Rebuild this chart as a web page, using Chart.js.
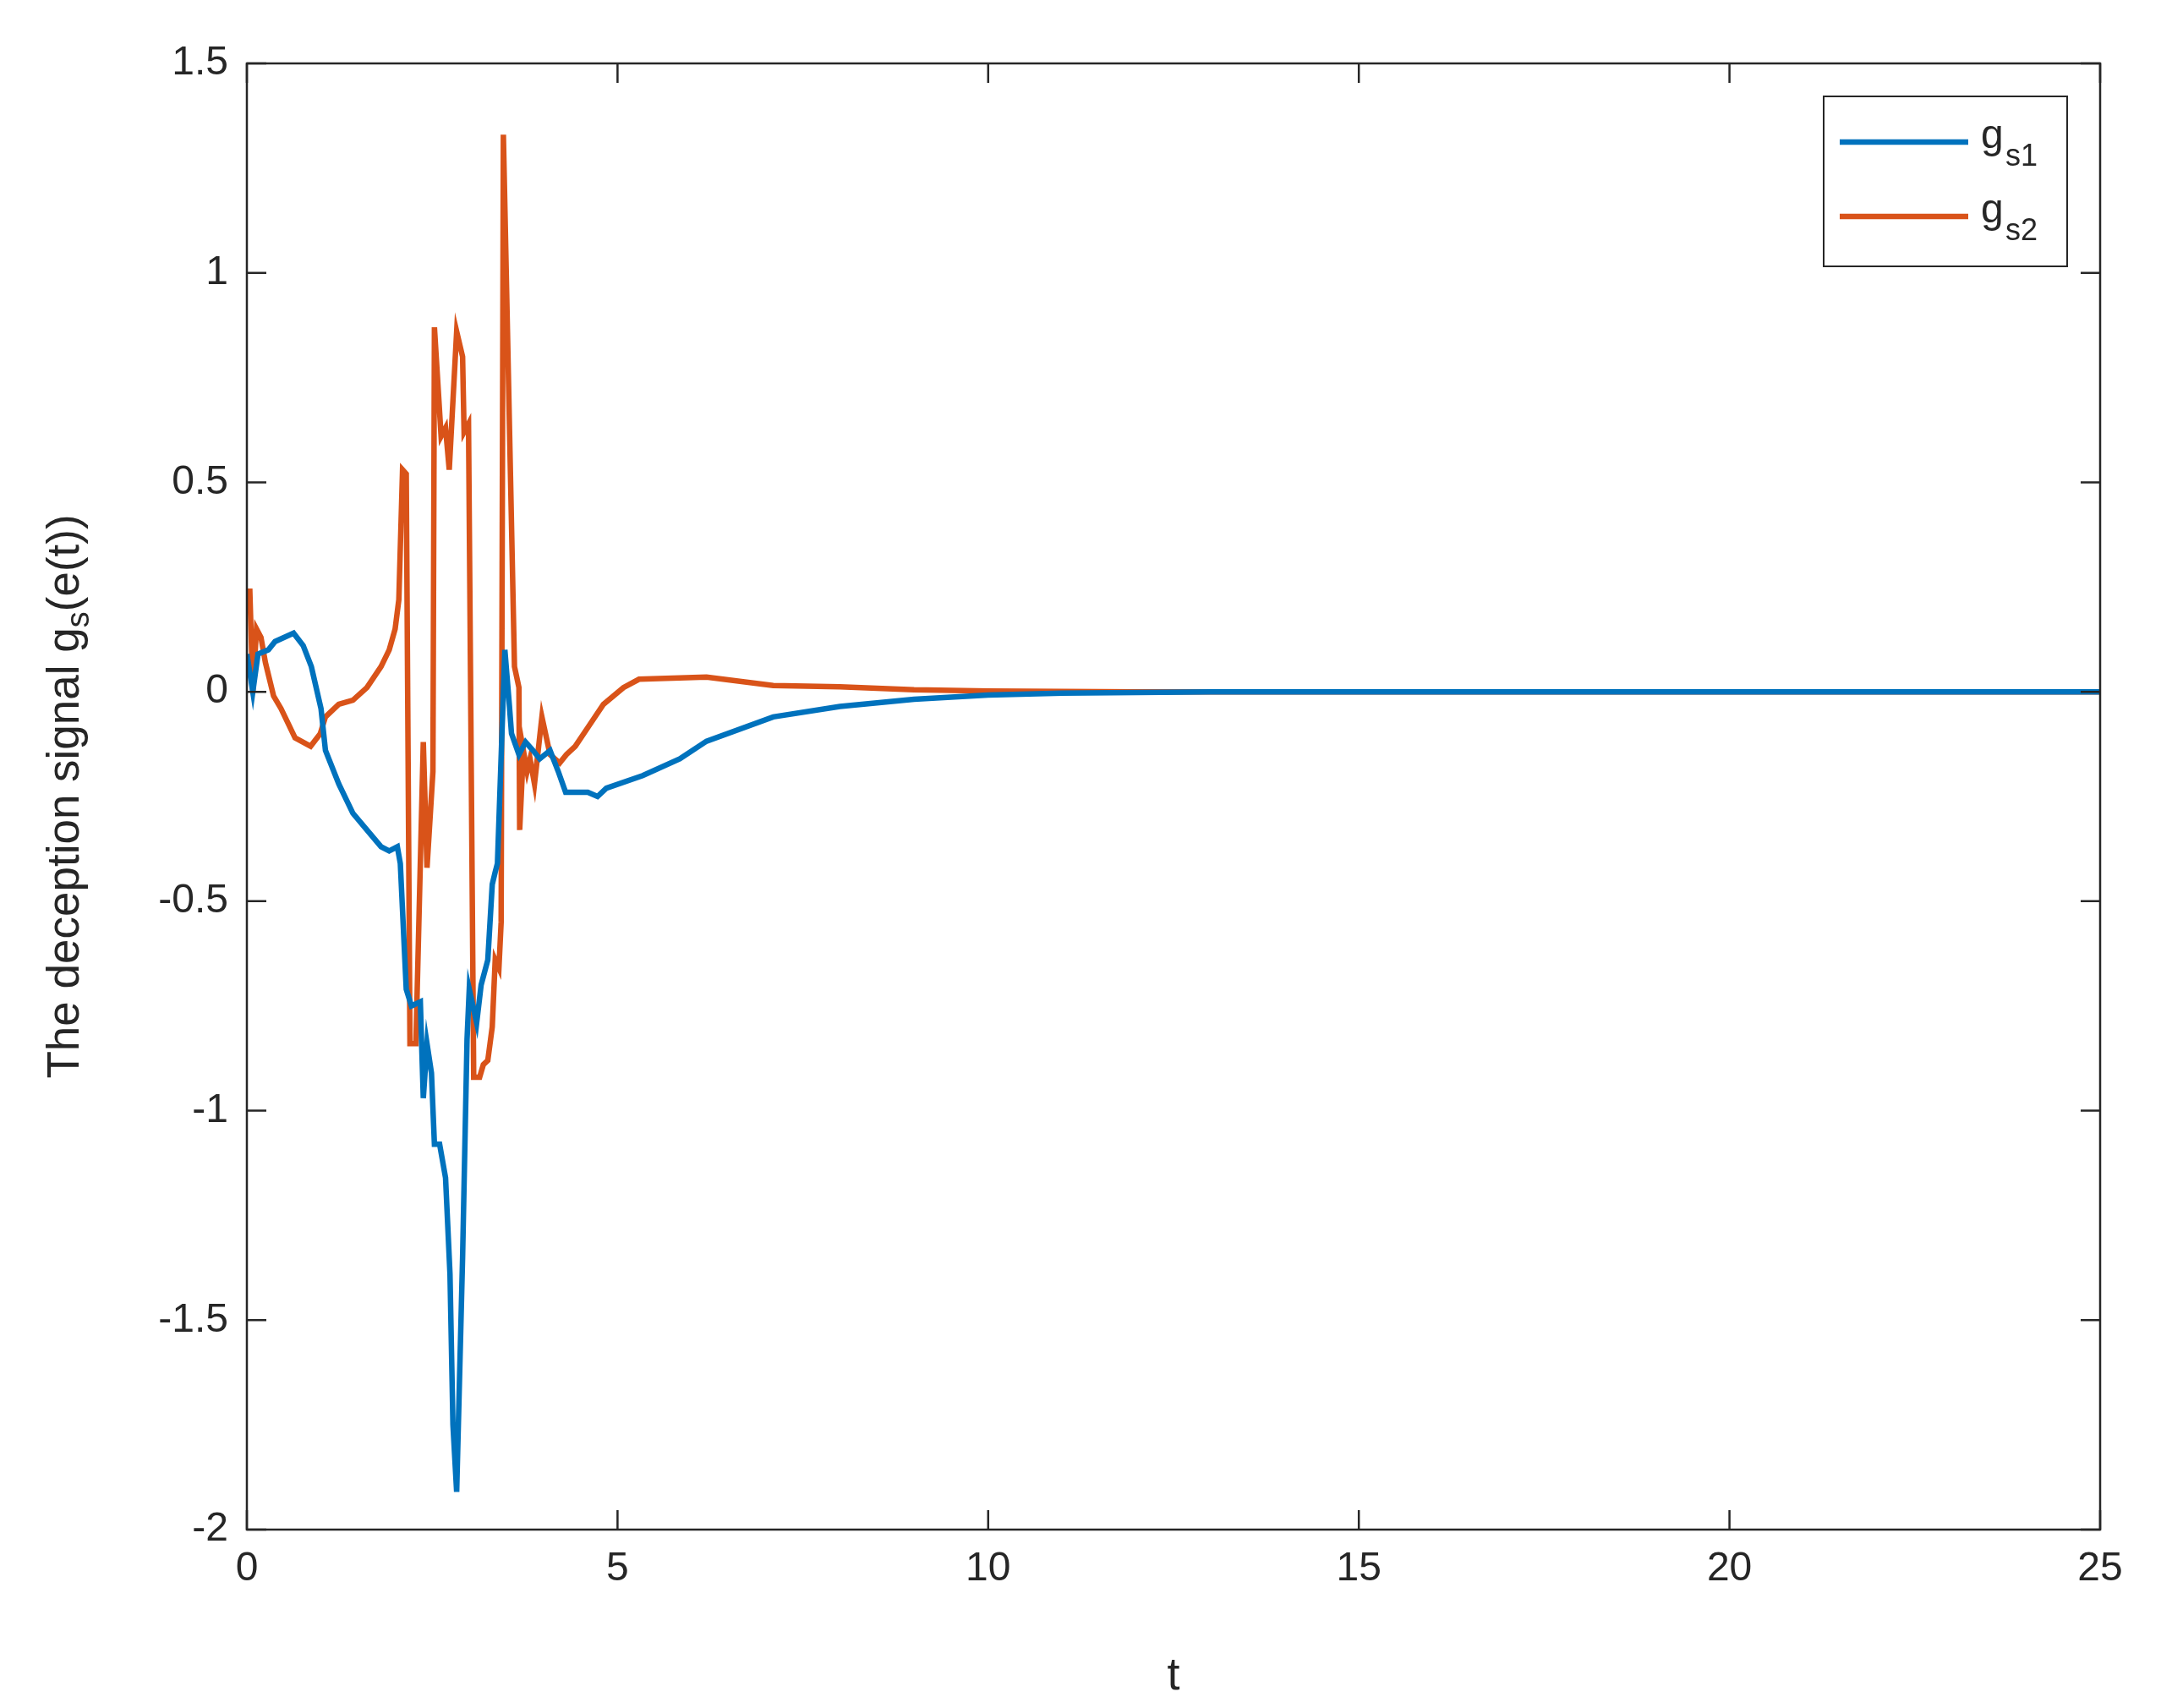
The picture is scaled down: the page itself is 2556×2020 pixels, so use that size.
<!DOCTYPE html>
<html><head><meta charset="utf-8">
<script src="https://cdn.jsdelivr.net/npm/chart.js@4"></script>
<style>html,body{margin:0;padding:0;background:#fff}</style>
</head><body>
<canvas id="c" width="2556" height="2020"></canvas>
<script>
const tBlue = [0,0.08,0.15,0.29,0.38,0.63,0.76,0.87,1.0,1.06,1.24,1.43,1.62,1.81,1.92,2.03,2.07,2.15,2.22,2.34,2.38,2.43,2.49,2.53,2.60,2.68,2.74,2.78,2.83,2.91,2.97,3.0,3.1,3.16,3.25,3.31,3.35,3.38,3.48,3.54,3.57,3.67,3.76,3.86,3.95,4.09,4.2,4.3,4.5,4.6,4.73,4.85,5.34,5.84,6.2,7.1,8,9,10,11,13,25];
const gs1 = [0.09,0.0,0.09,0.10,0.12,0.14,0.11,0.06,-0.04,-0.14,-0.22,-0.29,-0.33,-0.37,-0.38,-0.37,-0.41,-0.71,-0.75,-0.74,-0.97,-0.84,-0.91,-1.08,-1.08,-1.16,-1.39,-1.75,-1.91,-1.35,-0.83,-0.71,-0.79,-0.70,-0.64,-0.46,-0.43,-0.41,0.10,-0.03,-0.10,-0.15,-0.12,-0.14,-0.16,-0.14,-0.19,-0.24,-0.24,-0.24,-0.25,-0.23,-0.20,-0.16,-0.118,-0.06,-0.035,-0.018,-0.008,-0.003,0,0];
const tOrange = [0,0.04,0.08,0.13,0.19,0.25,0.36,0.46,0.65,0.86,0.99,1.06,1.24,1.43,1.62,1.81,1.92,2.0,2.05,2.1,2.15,2.2,2.28,2.38,2.43,2.51,2.53,2.62,2.68,2.73,2.83,2.91,2.93,2.99,3.06,3.14,3.19,3.25,3.31,3.35,3.40,3.43,3.46,3.61,3.67,3.68,3.73,3.78,3.82,3.88,3.98,4.09,4.22,4.31,4.43,4.62,4.81,5.08,5.29,6.2,7.1,8,9,10,12,25];
const gs2 = [0.24,0.24,0.0,0.15,0.13,0.07,-0.01,-0.04,-0.11,-0.13,-0.10,-0.06,-0.03,-0.02,0.01,0.06,0.10,0.15,0.22,0.53,0.52,-0.84,-0.84,-0.12,-0.42,-0.19,0.87,0.61,0.63,0.53,0.86,0.80,0.62,0.64,-0.92,-0.92,-0.89,-0.88,-0.80,-0.64,-0.66,-0.55,1.33,0.06,0.01,-0.33,-0.14,-0.19,-0.16,-0.22,-0.06,-0.15,-0.17,-0.15,-0.13,-0.08,-0.03,0.01,0.03,0.035,0.015,0.012,0.005,0.002,0,0];
const xTicks = [0,5,10,15,20,25];
const yTicks = [-2,-1.5,-1,-0.5,0,0.5,1,1.5];
const seriesNames = ['s1','s2'];

const FONT = '"Liberation Sans", Arial, sans-serif';
const pts = (xs, ys) => xs.map((x,i)=>({x, y: ys[i]}));

const frame = {
  id:'frame',
  afterDraw(chart){
    const {ctx, chartArea:a, scales:{x,y}} = chart;
    ctx.save();
    ctx.strokeStyle='#262626'; ctx.lineWidth=2.5;
    ctx.strokeRect(a.left,a.top,a.right-a.left,a.bottom-a.top);
    const L=23;
    ctx.beginPath();
    xTicks.forEach(v=>{const px=x.getPixelForValue(v);
      ctx.moveTo(px,a.bottom);ctx.lineTo(px,a.bottom-L);
      ctx.moveTo(px,a.top);ctx.lineTo(px,a.top+L);});
    yTicks.forEach(v=>{const py=y.getPixelForValue(v);
      ctx.moveTo(a.left,py);ctx.lineTo(a.left+L,py);
      ctx.moveTo(a.right,py);ctx.lineTo(a.right-L,py);});
    ctx.stroke();
    ctx.fillStyle='#262626';
    ctx.translate(78,(a.top+a.bottom)/2);
    ctx.rotate(-Math.PI/2);
    ctx.textBaseline='middle';
    const p1='The deception signal g', p2='s', p3='(e(t))';
    ctx.font='53px '+FONT; const w1=ctx.measureText(p1).width, w3=ctx.measureText(p3).width;
    ctx.font='38px '+FONT; const w2=ctx.measureText(p2).width;
    let sx=-(w1+w2+w3)/2;
    ctx.font='53px '+FONT; ctx.textAlign='left'; ctx.fillText(p1,sx,0);
    ctx.font='38px '+FONT; ctx.fillText(p2,sx+w1,17);
    ctx.font='53px '+FONT; ctx.fillText(p3,sx+w1+w2,0);
    ctx.restore();
    ctx.save();
    const bx=2157,by=114,bw=288,bh=201;
    ctx.fillStyle='#fff'; ctx.fillRect(bx,by,bw,bh);
    ctx.strokeStyle='#262626'; ctx.lineWidth=2; ctx.strokeRect(bx,by,bw,bh);
    chart.data.datasets.forEach((ds,i)=>{
      const ly=by+54+i*88;
      ctx.strokeStyle=ds.borderColor; ctx.lineWidth=6.5;
      ctx.beginPath(); ctx.moveTo(2176,ly); ctx.lineTo(2328,ly); ctx.stroke();
      ctx.fillStyle='#262626'; ctx.textBaseline='middle'; ctx.textAlign='left';
      ctx.font='48px '+FONT; ctx.fillText('g',2343,ly-6);
      ctx.font='36px '+FONT; ctx.fillText(seriesNames[i],2372,ly+18);
    });
    ctx.restore();
  }
};

new Chart(document.getElementById('c'),{
  type:'scatter',
  data:{datasets:[
    {label:'g_s1',data:pts(tBlue,gs1),showLine:true,borderColor:'#0072BD',borderWidth:6.5,pointRadius:0,tension:0},
    {label:'g_s2',data:pts(tOrange,gs2),showLine:true,borderColor:'#D95319',borderWidth:6.5,pointRadius:0,tension:0}
  ]},
  options:{
    responsive:false,animation:false,devicePixelRatio:1,
    layout:{padding:{top:75,right:72,left:0,bottom:0}},
    plugins:{legend:{display:false},tooltip:{enabled:false}},
    scales:{
      x:{type:'linear',min:0,max:25,
        afterBuildTicks:s=>{s.ticks=xTicks.map(v=>({value:v}));},
        afterFit:s=>{s.height=211;},
        grid:{drawOnChartArea:false,drawTicks:false,display:false},border:{display:false},
        ticks:{color:'#262626',font:{family:FONT,size:48},padding:18,maxRotation:0},
        title:{display:true,text:'t',color:'#262626',font:{family:FONT,size:54},padding:{top:4}}},
      y:{type:'linear',min:-2,max:1.5,
        afterBuildTicks:s=>{s.ticks=yTicks.map(v=>({value:v}));},
        afterFit:s=>{s.width=292;},
        grid:{drawOnChartArea:false,drawTicks:false,display:false},border:{display:false},
        ticks:{color:'#262626',font:{family:FONT,size:48},padding:22,callback:v=>String(v)}}
    }
  },
  plugins:[frame]
});
</script>
</body></html>
